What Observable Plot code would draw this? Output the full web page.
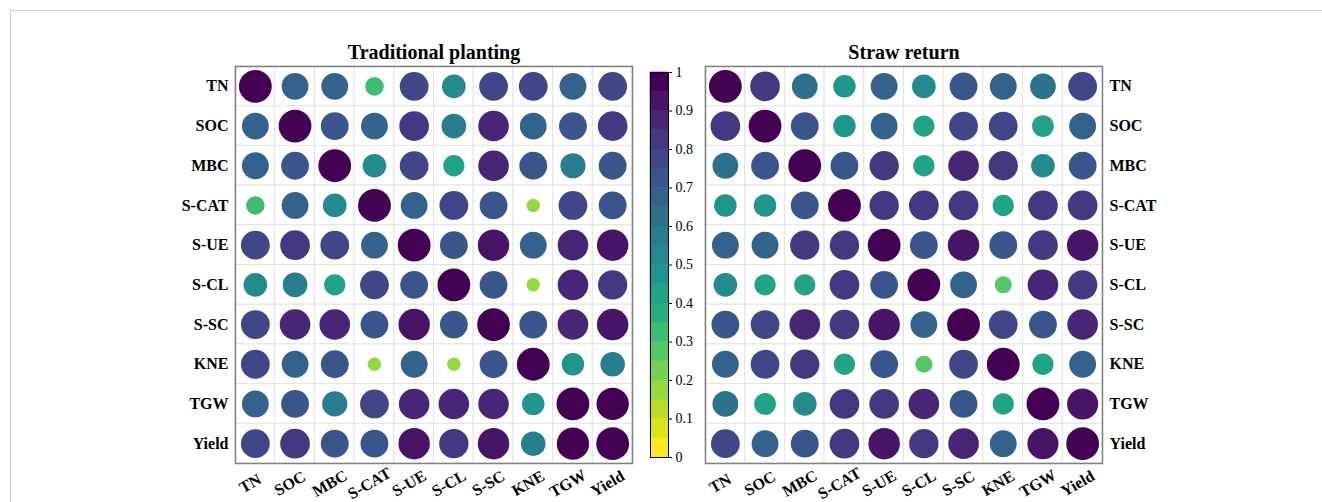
<!DOCTYPE html>
<html>
<head>
<meta charset="utf-8">
<script src="https://cdn.jsdelivr.net/npm/d3@7"></script>
<script src="https://cdn.jsdelivr.net/npm/@observablehq/plot@0.6"></script>
<style>
  html, body { margin: 0; padding: 0; background: white; overflow: hidden; width: 1322px; height: 502px; }
  #fig { position: relative; width: 1322px; height: 502px; }
  #border { position: absolute; left: 10px; top: 10px; width: 1400px; height: 600px; border: 1px solid #cfcfcf; }
  .panel { position: absolute; }
</style>
</head>
<body>
<div id="fig">
  <div id="border"></div>
  <div id="tp" class="panel" style="left:125px; top:26px;"></div>
  <div id="cb" class="panel" style="left:630px; top:40px;"></div>
  <div id="sr" class="panel" style="left:695px; top:26px;"></div>
</div>
<script>
const vars = ["TN", "SOC", "MBC", "S-CAT", "S-UE", "S-CL", "S-SC", "KNE", "TGW", "Yield"];

// Traditional planting correlation matrix (rows = y, cols = x)
const traditional = [
  [1.00, 0.67, 0.67, 0.32, 0.77, 0.52, 0.77, 0.77, 0.67, 0.77],
  [0.67, 1.00, 0.72, 0.67, 0.82, 0.57, 0.87, 0.67, 0.72, 0.82],
  [0.67, 0.72, 1.00, 0.52, 0.77, 0.42, 0.87, 0.72, 0.59, 0.72],
  [0.32, 0.67, 0.52, 1.00, 0.67, 0.77, 0.72, 0.17, 0.77, 0.72],
  [0.77, 0.82, 0.77, 0.67, 1.00, 0.72, 0.92, 0.67, 0.87, 0.92],
  [0.52, 0.57, 0.42, 0.77, 0.72, 1.00, 0.72, 0.17, 0.87, 0.80],
  [0.77, 0.87, 0.87, 0.72, 0.92, 0.72, 1.00, 0.72, 0.87, 0.92],
  [0.77, 0.67, 0.72, 0.17, 0.67, 0.17, 0.72, 1.00, 0.47, 0.56],
  [0.67, 0.72, 0.59, 0.77, 0.87, 0.87, 0.87, 0.47, 1.00, 0.97],
  [0.77, 0.82, 0.72, 0.72, 0.92, 0.80, 0.92, 0.56, 0.97, 1.00]
];

// Straw return correlation matrix
const straw = [
  [1.00, 0.82, 0.62, 0.47, 0.67, 0.52, 0.72, 0.67, 0.62, 0.77],
  [0.82, 1.00, 0.72, 0.47, 0.67, 0.42, 0.77, 0.77, 0.44, 0.67],
  [0.62, 0.72, 1.00, 0.72, 0.80, 0.42, 0.87, 0.80, 0.52, 0.72],
  [0.47, 0.47, 0.72, 1.00, 0.80, 0.82, 0.82, 0.42, 0.82, 0.82],
  [0.67, 0.67, 0.80, 0.80, 1.00, 0.72, 0.92, 0.72, 0.82, 0.92],
  [0.52, 0.42, 0.42, 0.82, 0.72, 1.00, 0.67, 0.27, 0.87, 0.80],
  [0.72, 0.77, 0.87, 0.82, 0.92, 0.67, 1.00, 0.77, 0.72, 0.87],
  [0.67, 0.77, 0.80, 0.42, 0.72, 0.27, 0.77, 1.00, 0.42, 0.67],
  [0.62, 0.44, 0.52, 0.82, 0.82, 0.87, 0.72, 0.42, 1.00, 0.90],
  [0.77, 0.67, 0.72, 0.82, 0.92, 0.80, 0.87, 0.67, 0.90, 1.00]
];

const colorBreaks = [0.05, 0.1, 0.15, 0.2, 0.25, 0.3, 0.35, 0.4, 0.45, 0.5, 0.55, 0.6, 0.65, 0.7, 0.75, 0.8, 0.85, 0.9, 0.95];
const colorTicks = [0, 0.1, 0.2, 0.3, 0.4, 0.5, 0.6, 0.7, 0.8, 0.9, 1];

const serif = "'Liberation Serif', 'Times New Roman', Times, serif";
const palette = d3.quantize(t => d3.interpolateViridis(1 - t), colorBreaks.length + 1);
const colorScale = { type: "threshold", domain: colorBreaks, range: palette };

function panel(matrix, title, side) {
  const data = matrix.flatMap((row, i) => row.map((v, j) => ({ row: vars[i], col: vars[j], v })));
  const left = side === "left";
  return Plot.plot({
    width: 517,
    height: 477,
    marginTop: 40,
    marginBottom: 40,
    marginLeft: left ? 110 : 10,
    marginRight: left ? 10 : 110,
    x: { domain: vars, type: "band", padding: 0, round: false, axis: null },
    y: { domain: vars, type: "band", padding: 0, round: false, axis: null },
    r: { type: "sqrt", domain: [0, 1], range: [0, 16.4] },
    color: colorScale,
    style: { fontFamily: serif, background: "white", overflow: "visible" },
    marks: [
      Plot.cell(data, { x: "col", y: "row", fill: "white", stroke: "#e4e4e4", strokeWidth: 1, inset: 0 }),
      Plot.dot(data, { x: "col", y: "row", r: "v", fill: "v", stroke: "none" }),
      Plot.frame({ stroke: "#808080", strokeWidth: 1.5 }),
      Plot.text(vars, {
        y: d => d, frameAnchor: left ? "left" : "right", dx: left ? -7 : 7,
        textAnchor: left ? "end" : "start", lineAnchor: "middle",
        fontSize: 16, fontWeight: "bold", fill: "black"
      }),
      Plot.text(vars, {
        x: d => d, frameAnchor: "bottom", dy: 20, dx: -5, rotate: -30,
        lineAnchor: "middle", fontSize: 16, fontWeight: "bold", fill: "black"
      }),
      Plot.text([title], {
        frameAnchor: "top", dy: -8, lineAnchor: "bottom",
        fontSize: 20, fontWeight: "bold", fill: "black"
      })
    ]
  });
}

function colorbar() {
  const edges = [0, ...colorBreaks, 1];
  const bins = d3.range(edges.length - 1).map(i => ({ lo: edges[i], hi: edges[i + 1], mid: (edges[i] + edges[i + 1]) / 2 }));
  return Plot.plot({
    width: 90,
    height: 437,
    marginTop: 32,
    marginBottom: 20,
    marginLeft: 20,
    marginRight: 52,
    x: { domain: [0, 1], axis: null },
    y: { domain: [0, 1], axis: null },
    color: colorScale,
    style: { fontFamily: serif, background: "transparent", overflow: "visible" },
    marks: [
      Plot.rect(bins, { x1: d => 0, x2: d => 1, y1: "lo", y2: "hi", fill: "mid", inset: 0, stroke: "mid", strokeWidth: 0.5 }),
      Plot.frame({ stroke: "black", strokeWidth: 1 }),
      Plot.axisY(colorTicks, {
        anchor: "right", tickSize: 3, tickPadding: 4, fontSize: 14, fill: "black",
        tickFormat: d => String(+d.toFixed(1))
      })
    ]
  });
}

document.getElementById("tp").appendChild(panel(traditional, "Traditional planting", "left"));
document.getElementById("cb").appendChild(colorbar());
document.getElementById("sr").appendChild(panel(straw, "Straw return", "right"));
</script>
</body>
</html>
